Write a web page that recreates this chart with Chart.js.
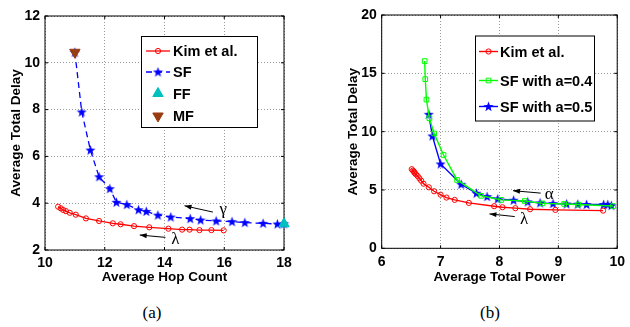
<!DOCTYPE html>
<html><head><meta charset="utf-8">
<script src="https://cdn.jsdelivr.net/npm/chart.js@4.4.0/dist/chart.umd.min.js"></script>
<style>
body{margin:0;background:#fff;width:630px;height:327px;position:relative;overflow:hidden}
canvas{position:absolute;top:0}
#c1{left:0}
#c2{left:315px}
.cap{position:absolute;top:303px;width:60px;text-align:center;font:17px "Liberation Serif",serif;line-height:20px}
</style></head><body>
<canvas id="c1" width="315" height="290"></canvas>
<canvas id="c2" width="315" height="290"></canvas>
<div class="cap" style="left:122px">(a)</div>
<div class="cap" style="left:460px">(b)</div>
<script>
// (a) delay vs hop count
const hopTicksX = [10, 12, 14, 16, 18];
const hopTicksY = [2, 4, 6, 8, 10, 12];
const hopKimX = [10.44, 10.53, 10.61, 10.70, 10.83, 11.03, 11.37, 11.81, 12.27, 12.53, 12.98, 13.49, 14.13, 14.59, 14.84, 15.17, 15.57, 15.98];
const hopKimY = [3.85, 3.78, 3.71, 3.66, 3.59, 3.51, 3.35, 3.24, 3.14, 3.10, 3.02, 2.97, 2.91, 2.87, 2.87, 2.85, 2.85, 2.84];
const hopSfX = [11.0, 11.23, 11.52, 11.81, 12.17, 12.39, 12.74, 13.13, 13.39, 13.78, 14.21, 14.86, 15.21, 15.73, 16.26, 16.69, 17.30, 17.78, 18.0];
const hopSfY = [10.45, 7.90, 6.27, 5.13, 4.62, 4.04, 3.94, 3.72, 3.65, 3.49, 3.41, 3.34, 3.28, 3.24, 3.21, 3.17, 3.14, 3.11, 3.12];
const hopFF = [18.0, 3.12];
const hopMF = [11.0, 10.45];

// (b) delay vs power
const powTicksX = [6, 7, 8, 9, 10];
const powTicksY = [0, 5, 10, 15, 20];
const powKimX = [6.51, 6.53, 6.55, 6.56, 6.58, 6.61, 6.64, 6.67, 6.71, 6.80, 6.89, 7.00, 7.10, 7.24, 7.48, 7.91, 8.05, 8.27, 8.52, 8.95, 9.76];
const powKimY = [6.78, 6.66, 6.57, 6.46, 6.35, 6.20, 6.00, 5.80, 5.54, 5.23, 4.89, 4.60, 4.35, 4.15, 3.89, 3.61, 3.52, 3.44, 3.35, 3.29, 3.23];
const powSf4X = [6.73, 6.74, 6.76, 6.81, 6.89, 7.05, 7.28, 7.69, 8.03, 8.43, 8.73, 9.10, 9.34, 9.93];
const powSf4Y = [16.05, 14.5, 12.75, 11.15, 9.85, 8.0, 5.86, 4.5, 4.15, 4.05, 3.85, 3.8, 3.75, 3.62];
const powSf5X = [6.80, 6.86, 7.00, 7.35, 7.61, 7.79, 7.97, 8.24, 8.48, 8.69, 8.91, 9.14, 9.33, 9.48, 9.77, 9.84, 9.90];
const powSf5Y = [11.49, 9.63, 7.23, 5.49, 4.72, 4.43, 4.23, 4.12, 3.98, 3.89, 3.83, 3.80, 3.78, 3.75, 3.75, 3.75, 3.66];

const pts = (xs, ys) => xs.map((x, i) => ({ x: x, y: ys[i] }));

const FONT = '"Liberation Sans", Arial, sans-serif';
Chart.defaults.font.family = FONT;
Chart.defaults.font.weight = 'bold';
Chart.defaults.font.size = 14;
Chart.defaults.color = '#000';

const star = (() => {
    const c = document.createElement('canvas');
    c.width = 11; c.height = 11;
    const g = c.getContext('2d');
    g.fillStyle = '#0000ff';
    g.beginPath();
    for (let i = 0; i < 10; i++) {
        const r = i % 2 ? 2.2 : 5.3;
        const a = -Math.PI / 2 + i * Math.PI / 5;
        g.lineTo(5.5 + r * Math.cos(a), 5.9 + r * Math.sin(a));
    }
    g.closePath();
    g.fill();
    return c;
})();

// matlab style box with inward ticks
const boxPlugin = {
    id: 'mbox',
    beforeDatasetsDraw(chart) {
        const { ctx, chartArea: a, scales } = chart;
        ctx.save();
        ctx.strokeStyle = '#000';
        ctx.lineWidth = 1;
        ctx.strokeRect(a.left, a.top, a.right - a.left, a.bottom - a.top);
        ctx.beginPath();
        scales.x.ticks.forEach(t => {
            const px = scales.x.getPixelForValue(t.value);
            ctx.moveTo(px, a.bottom); ctx.lineTo(px, a.bottom - 3);
            ctx.moveTo(px, a.top); ctx.lineTo(px, a.top + 3);
        });
        scales.y.ticks.forEach(t => {
            const py = scales.y.getPixelForValue(t.value);
            ctx.moveTo(a.left, py); ctx.lineTo(a.left + 3, py);
            ctx.moveTo(a.right, py); ctx.lineTo(a.right - 3, py);
        });
        ctx.stroke();
        ctx.restore();
    }
};

const arrowPlugin = {
    id: 'arrows',
    afterDatasetsDraw(chart, args, opts) {
        const { ctx, scales } = chart;
        ctx.save();
        ctx.strokeStyle = '#000';
        ctx.fillStyle = '#000';
        ctx.lineWidth = 1;
        (opts.items || []).forEach(it => {
            const x0 = scales.x.getPixelForValue(it.from[0]), y0 = scales.y.getPixelForValue(it.from[1]);
            const x1 = scales.x.getPixelForValue(it.to[0]), y1 = scales.y.getPixelForValue(it.to[1]);
            const ang = Math.atan2(y1 - y0, x1 - x0);
            ctx.beginPath(); ctx.moveTo(x0, y0); ctx.lineTo(x1, y1); ctx.stroke();
            ctx.beginPath();
            ctx.moveTo(x1, y1);
            ctx.lineTo(x1 - 7 * Math.cos(ang) + 2.5 * Math.sin(ang), y1 - 7 * Math.sin(ang) - 2.5 * Math.cos(ang));
            ctx.lineTo(x1 - 7 * Math.cos(ang) - 2.5 * Math.sin(ang), y1 - 7 * Math.sin(ang) + 2.5 * Math.cos(ang));
            ctx.closePath(); ctx.fill();
            ctx.font = '17px "Liberation Serif", serif';
            ctx.textBaseline = 'middle';
            ctx.textAlign = 'left';
            ctx.fillText(it.label, scales.x.getPixelForValue(it.at[0]), scales.y.getPixelForValue(it.at[1]));
        });
        ctx.restore();
    }
};

// legend box drawn inside the axes, matlab style
const legendPlugin = {
    id: 'mlegend',
    afterDraw(chart, args, opts) {
        const { ctx } = chart;
        const [bx, by, bw, bh] = opts.box;
        ctx.save();
        ctx.fillStyle = '#fff';
        ctx.fillRect(bx, by, bw, bh);
        ctx.strokeStyle = '#000';
        ctx.lineWidth = 1;
        ctx.strokeRect(bx + 0.5, by + 0.5, bw, bh);
        chart.data.datasets.forEach((ds, k) => {
            const y = opts.rows[k];
            const [l0, l1] = opts.line;
            if (ds.showLine) {
                ctx.save();
                ctx.strokeStyle = ds.borderColor;
                ctx.lineWidth = ds.borderWidth;
                ctx.setLineDash(ds.borderDash || []);
                ctx.beginPath(); ctx.moveTo(l0, y); ctx.lineTo(l1, y); ctx.stroke();
                ctx.restore();
            }
            ctx.save();
            ctx.fillStyle = ds.pointBackgroundColor;
            ctx.strokeStyle = ds.pointBorderColor;
            ctx.lineWidth = ds.pointBorderWidth || 1;
            Chart.helpers.drawPoint(ctx, {
                pointStyle: ds.pointStyle, rotation: ds.pointRotation || 0, radius: ds.pointRadius,
                borderWidth: ds.pointBorderWidth || 1
            }, (l0 + l1) / 2, y);
            ctx.restore();
            ctx.fillStyle = '#000';
            ctx.font = 'bold 14.5px ' + FONT;
            ctx.textBaseline = 'middle';
            ctx.textAlign = 'left';
            ctx.fillText(ds.label, opts.textX, y + 1);
        });
        ctx.restore();
    }
};

function axes(xt, yt, xTitle, yTitle, yWidth, xHeight, yTitlePad) {
    return {
        x: {
            type: 'linear', min: xt[0], max: xt[xt.length - 1],
            afterBuildTicks: s => { s.ticks = xt.map(v => ({ value: v })); },
            afterFit: s => { s.height = xHeight; },
            grid: { color: '#9a9a9a', lineWidth: 1, drawTicks: false },
            border: { display: false, dash: [1, 2] },
            ticks: { padding: 5, maxRotation: 0, font: { size: 14, weight: 'bold' } },
            title: { display: true, text: xTitle, padding: { top: 0, bottom: 5 }, font: { size: 13.5, weight: 'bold' } }
        },
        y: {
            type: 'linear', min: yt[0], max: yt[yt.length - 1],
            afterBuildTicks: s => { s.ticks = yt.map(v => ({ value: v })); },
            afterFit: s => { s.width = yWidth; },
            grid: { color: '#9a9a9a', lineWidth: 1, drawTicks: false },
            border: { display: false, dash: [1, 2] },
            ticks: { padding: 5, font: { size: 14, weight: 'bold' } },
            title: { display: true, text: yTitle, padding: { top: yTitlePad, bottom: 0 }, font: { size: 13.5, weight: 'bold' } }
        }
    };
}

const none = 'rgba(0,0,0,0)';

const chartA = new Chart(document.getElementById('c1'), {
    type: 'scatter',
    plugins: [boxPlugin, arrowPlugin, legendPlugin],
    data: {
        datasets: [
            { label: 'Kim et al.', data: pts(hopKimX, hopKimY), showLine: true, borderColor: '#ff0000', borderWidth: 1.3,
              pointStyle: 'circle', pointRadius: 2.6, pointBorderColor: '#ff0000', pointBackgroundColor: none, pointBorderWidth: 1, order: 2, clip: false },
            { label: 'SF', data: pts(hopSfX, hopSfY), showLine: true, borderColor: '#0000ff', borderWidth: 1.3, borderDash: [6, 4],
              pointStyle: star, pointRadius: 5, pointBorderColor: '#0000ff', pointBackgroundColor: '#0000ff', order: 2, clip: false },
            { label: 'FF', data: [{ x: hopFF[0], y: hopFF[1] }], showLine: false,
              pointStyle: 'triangle', pointRadius: 6, pointBorderColor: '#00bfbf', pointBackgroundColor: '#00bfbf', order: 1, clip: false },
            { label: 'MF', data: [{ x: hopMF[0], y: hopMF[1] }], showLine: false, pointRotation: 180,
              pointStyle: 'triangle', pointRadius: 6, pointBorderColor: '#993c12', pointBackgroundColor: '#993c12', order: 1, clip: false }
        ]
    },
    options: {
        responsive: false, animation: false, events: [],
        layout: { padding: { left: 0, right: 31, top: 16, bottom: 0 } },
        scales: axes(hopTicksX, hopTicksY, 'Average Hop Count', 'Average Total Delay', 45, 40, 8),
        plugins: {
            legend: { display: false }, tooltip: { enabled: false },
            arrows: { items: [
                { from: [15.62, 3.62], to: [14.67, 3.89], label: 'γ', at: [15.84, 3.74] },
                { from: [14.03, 2.54], to: [13.17, 2.64], label: 'λ', at: [14.23, 2.45] }
            ] },
            mlegend: { box: [141, 36, 116, 91], rows: [51, 72, 93.5, 116], line: [146, 170], textX: 173 }
        }
    }
});

const chartB = new Chart(document.getElementById('c2'), {
    type: 'scatter',
    plugins: [boxPlugin, arrowPlugin, legendPlugin],
    data: {
        datasets: [
            { label: 'Kim et al.', data: pts(powKimX, powKimY), showLine: true, borderColor: '#ff0000', borderWidth: 1.4,
              pointStyle: 'circle', pointRadius: 2.6, pointBorderColor: '#ff0000', pointBackgroundColor: none, pointBorderWidth: 1, clip: false },
            { label: 'SF with a=0.4', data: pts(powSf4X, powSf4Y), showLine: true, borderColor: '#00ff00', borderWidth: 1.4,
              pointStyle: 'rect', pointRadius: 3.3, pointBorderColor: '#00ff00', pointBackgroundColor: none, pointBorderWidth: 1, clip: false },
            { label: 'SF with a=0.5', data: pts(powSf5X, powSf5Y), showLine: true, borderColor: '#0000ff', borderWidth: 1.4,
              pointStyle: star, pointRadius: 5, pointBorderColor: '#0000ff', pointBackgroundColor: '#0000ff', clip: false }
        ]
    },
    options: {
        responsive: false, animation: false, events: [],
        layout: { padding: { left: 0, right: 9, top: 15, bottom: 0 } },
        scales: axes(powTicksX, powTicksY, 'Average Total Power', 'Average Total Delay', 66.7, 41.7, 30),
        plugins: {
            legend: { display: false }, tooltip: { enabled: false },
            arrows: { items: [
                { from: [8.70, 4.73], to: [8.23, 4.94], label: 'α', at: [8.77, 4.6] },
                { from: [8.26, 2.72], to: [7.83, 2.95], label: 'λ', at: [8.35, 2.45] }
            ] },
            mlegend: { box: [160, 35.5, 119, 85], rows: [51.5, 80.5, 106.5], line: [164, 183], textX: 185 }
        }
    }
});
</script>
</body></html>
